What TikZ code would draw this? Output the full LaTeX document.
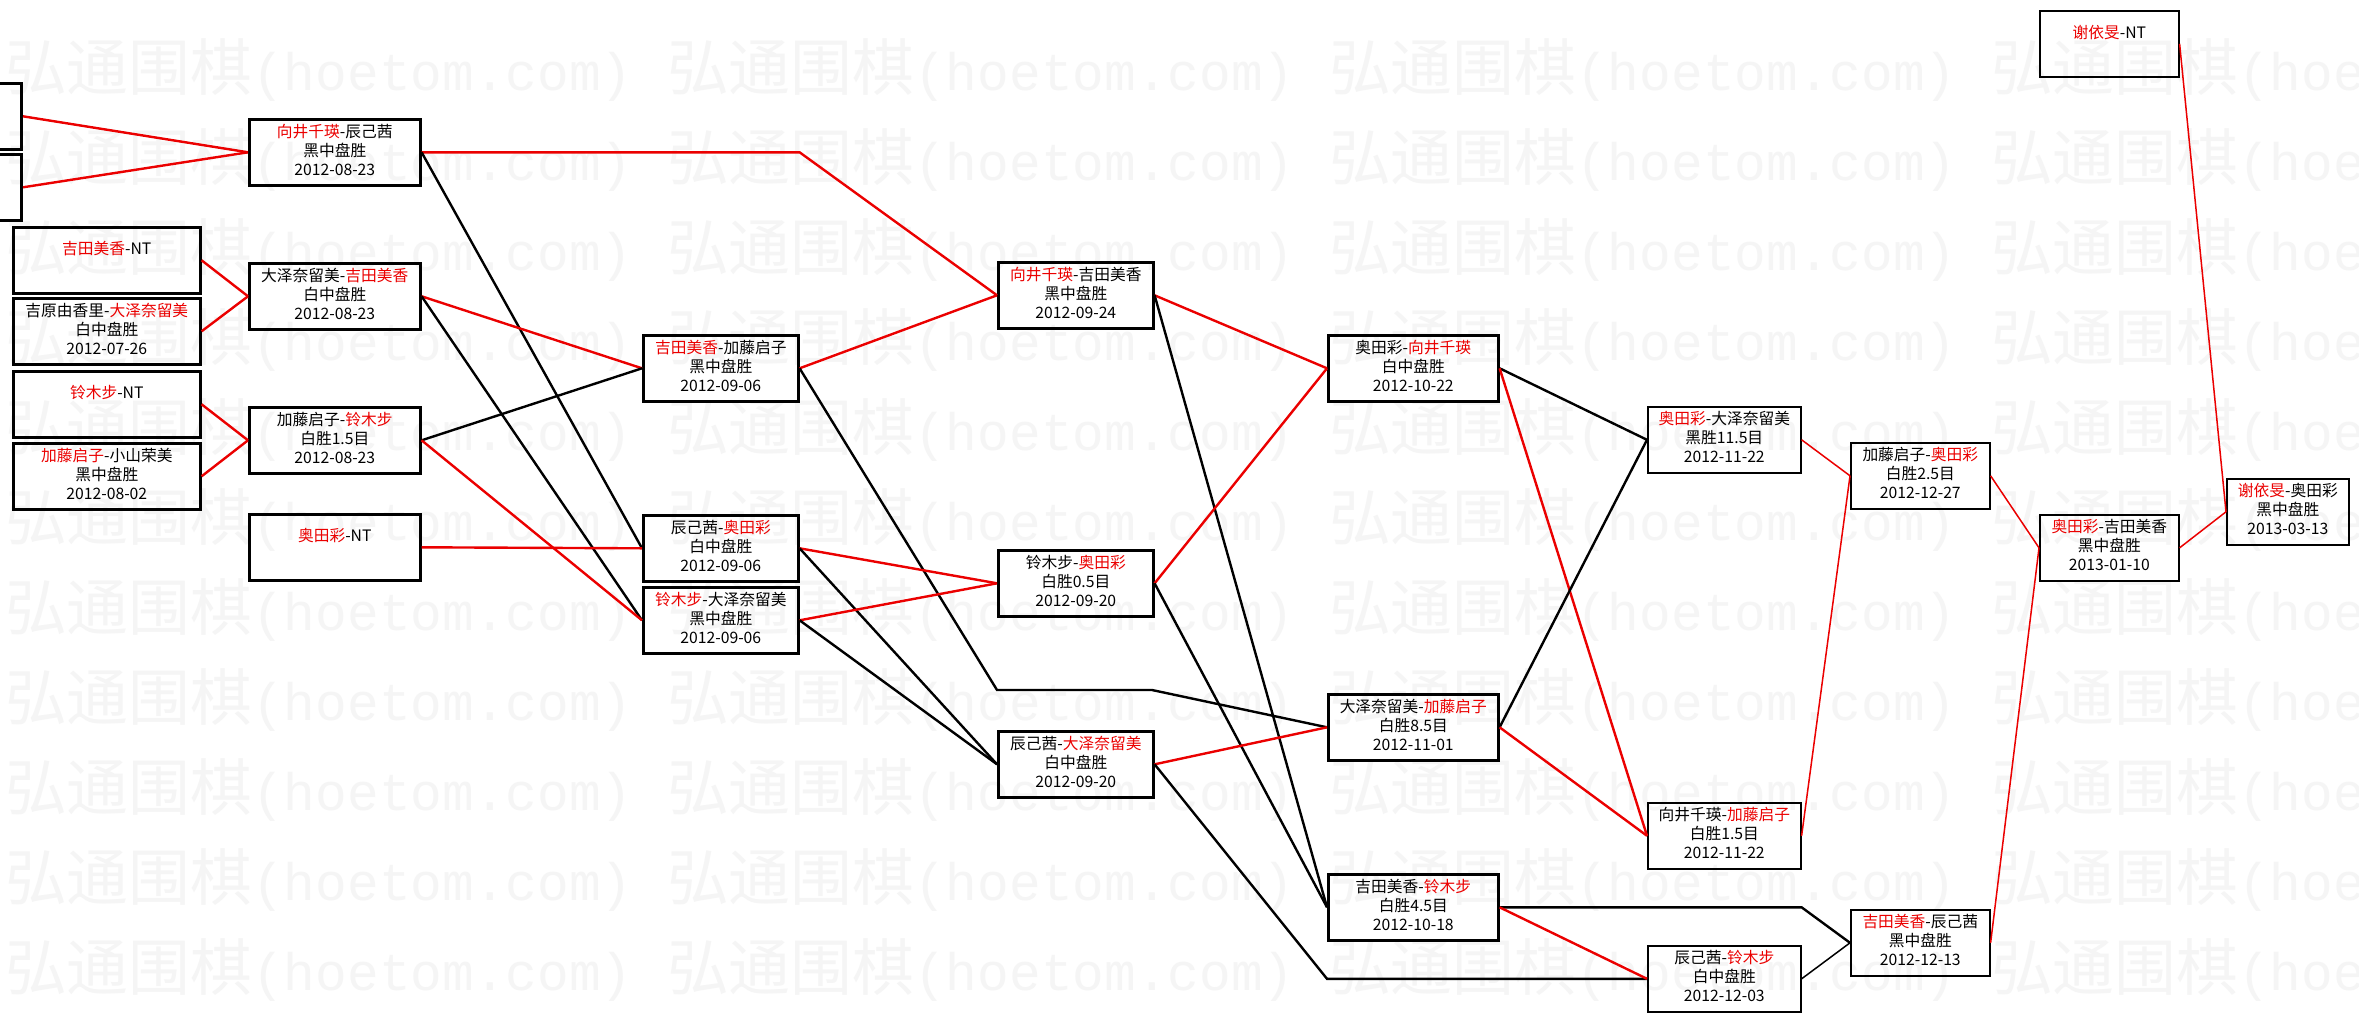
\documentclass[tikz,border=0pt]{standalone}
\usepackage{fontspec}
\setmainfont{Noto Sans CJK SC}
\newfontfamily\wmlat{Liberation Mono}
\definecolor{myred}{RGB}{235,0,0}
\newcommand\R[1]{\textcolor{myred}{#1}}
\newcommand\tri[3]{\begin{tabular}{@{}c@{}}#1\\#2\\#3\end{tabular}}
\begin{document}
\begin{tikzpicture}[x=1bp,y=-1bp,
  gbox/.style={draw=black, line width=2.6bp, rectangle, inner sep=0pt, minimum height=66bp, anchor=north west, font=\fontsize{15.8}{19}\selectfont},
  tbox/.style={gbox, line width=1.6bp},
  wline/.style={draw=myred, line width=2.4bp},
  lline/.style={draw=black, line width=2.4bp},
  twline/.style={wline, line width=1.5bp},
  tlline/.style={lline, line width=1.5bp},
  wmark/.style={anchor=base west, inner sep=0pt, text=black!4, font=\fontsize{62}{62}\selectfont}
]
\useasboundingbox (0,0) rectangle (2359,1021);
\clip (0,0) rectangle (2359,1021);
\fill[white] (0,0) rectangle (2359,1021);
% watermark
\foreach \k in {0,...,10} {
  \foreach \j in {0,...,3} {
    \node[wmark] (wm-\k-\j) at ({5+662*\j},{90+90*\k}) {弘通围棋{\wmlat\fontsize{53}{53}\selectfont(hoetom.com)}};
  }
}
% column 0 (cut off)
\node[gbox, minimum width=188bp, anchor=north east] (a1) at (23,82) {};
\node[gbox, minimum width=188bp, anchor=north east] (a2) at (23,153) {};
% column 1
\node[gbox, minimum width=187bp] (c1a) at (12,226) {\tri{\R{吉田美香}-NT}{}{}};
\node[gbox, minimum width=187bp] (c1b) at (12,297) {\tri{吉原由香里-\R{大泽奈留美}}{白中盘胜}{2012-07-26}};
\node[gbox, minimum width=187bp] (c1c) at (12,370) {\tri{\R{铃木步}-NT}{}{}};
\node[gbox, minimum width=187bp] (c1d) at (12,442) {\tri{\R{加藤启子}-小山荣美}{黑中盘胜}{2012-08-02}};
% column 2
\node[gbox, minimum width=171bp] (c2a) at (248,118) {\tri{\R{向井千瑛}-辰己茜}{黑中盘胜}{2012-08-23}};
\node[gbox, minimum width=171bp] (c2b) at (248,262) {\tri{大泽奈留美-\R{吉田美香}}{白中盘胜}{2012-08-23}};
\node[gbox, minimum width=171bp] (c2c) at (248,406) {\tri{加藤启子-\R{铃木步}}{白胜1.5目}{2012-08-23}};
\node[gbox, minimum width=171bp] (c2d) at (248,513) {\tri{\R{奥田彩}-NT}{}{}};
% column 3
\node[gbox, minimum width=155bp] (c3a) at (642,334) {\tri{\R{吉田美香}-加藤启子}{黑中盘胜}{2012-09-06}};
\node[gbox, minimum width=155bp] (c3b) at (642,514) {\tri{辰己茜-\R{奥田彩}}{白中盘胜}{2012-09-06}};
\node[gbox, minimum width=155bp] (c3c) at (642,586) {\tri{\R{铃木步}-大泽奈留美}{黑中盘胜}{2012-09-06}};
% column 4
\node[gbox, minimum width=155bp] (c4a) at (997,261) {\tri{\R{向井千瑛}-吉田美香}{黑中盘胜}{2012-09-24}};
\node[gbox, minimum width=155bp] (c4b) at (997,549) {\tri{铃木步-\R{奥田彩}}{白胜0.5目}{2012-09-20}};
\node[gbox, minimum width=155bp] (c4c) at (997,730) {\tri{辰己茜-\R{大泽奈留美}}{白中盘胜}{2012-09-20}};
% column 5
\node[gbox, minimum width=170bp] (c5a) at (1327,334) {\tri{奥田彩-\R{向井千瑛}}{白中盘胜}{2012-10-22}};
\node[gbox, minimum width=170bp] (c5b) at (1327,693) {\tri{大泽奈留美-\R{加藤启子}}{白胜8.5目}{2012-11-01}};
\node[gbox, minimum width=170bp] (c5c) at (1327,873) {\tri{吉田美香-\R{铃木步}}{白胜4.5目}{2012-10-18}};
% column 6
\node[tbox, minimum width=153bp] (c6a) at (1647,406) {\tri{\R{奥田彩}-大泽奈留美}{黑胜11.5目}{2012-11-22}};
\node[tbox, minimum width=153bp] (c6b) at (1647,802) {\tri{向井千瑛-\R{加藤启子}}{白胜1.5目}{2012-11-22}};
\node[tbox, minimum width=153bp] (c6c) at (1647,945) {\tri{辰己茜-\R{铃木步}}{白中盘胜}{2012-12-03}};
% column 7
\node[tbox, minimum width=139bp] (c7a) at (1850,442) {\tri{加藤启子-\R{奥田彩}}{白胜2.5目}{2012-12-27}};
\node[tbox, minimum width=139bp] (c7b) at (1850,909) {\tri{\R{吉田美香}-辰己茜}{黑中盘胜}{2012-12-13}};
% column 8
\node[tbox, minimum width=139bp] (c8n) at (2039,10) {\tri{\R{谢依旻}-NT}{}{}};
\node[tbox, minimum width=139bp] (c8a) at (2039,514) {\tri{\R{奥田彩}-吉田美香}{黑中盘胜}{2013-01-10}};
% column 9
\node[tbox, minimum width=122bp] (c9a) at (2226,478) {\tri{\R{谢依旻}-奥田彩}{黑中盘胜}{2013-03-13}};
% bend points
\coordinate (k1) at (997,690);
\coordinate (k2) at (1152,690);
% round 1
\draw[wline] (a1.east) -- (c2a.west);
\draw[wline] (a2.east) -- (c2a.west);
\draw[wline] (c1a.east) -- (c2b.west);
\draw[wline] (c1b.east) -- (c2b.west);
\draw[wline] (c1c.east) -- (c2c.west);
\draw[wline] (c1d.east) -- (c2c.west);
% round 2
\draw[wline] (c2a.east) -- (c2a.east -| c3a.east) -- (c4a.west);
\draw[lline] (c2a.east) -- (c3b.west);
\draw[wline] (c2b.east) -- (c3a.west);
\draw[lline] (c2b.east) -- (c3c.west);
\draw[lline] (c2c.east) -- (c3a.west);
\draw[wline] (c2c.east) -- (c3c.west);
\draw[wline] (c2d.east) -- (c3b.west);
% round 3
\draw[wline] (c3a.east) -- (c4a.west);
\draw[lline] (c3a.east) -- (k1) -- (k2) -- (c5b.west);
\draw[wline] (c3b.east) -- (c4b.west);
\draw[lline] (c3b.east) -- (c4c.west);
\draw[wline] (c3c.east) -- (c4b.west);
\draw[lline] (c3c.east) -- (c4c.west);
% round 4
\draw[wline] (c4a.east) -- (c5a.west);
\draw[lline] (c4a.east) -- (c5c.west);
\draw[wline] (c4b.east) -- (c5a.west);
\draw[lline] (c4b.east) -- (c5c.west);
\draw[wline] (c4c.east) -- (c5b.west);
\draw[lline] (c4c.east) -- (c5c.west |- c6c.west) -- (c6c.west);
% round 5
\draw[lline] (c5a.east) -- (c6a.west);
\draw[wline] (c5a.east) -- (c6b.west);
\draw[lline] (c5b.east) -- (c6a.west);
\draw[wline] (c5b.east) -- (c6b.west);
\draw[lline] (c5c.east) -- (c5c.east -| c6c.east) -- (c7b.west);
\draw[wline] (c5c.east) -- (c6c.west);
% round 6
\draw[twline] (c6a.east) -- (c7a.west);
\draw[twline] (c6b.east) -- (c7a.west);
\draw[tlline] (c6c.east) -- (c7b.west);
% round 7
\draw[twline] (c7a.east) -- (c8a.west);
\draw[twline] (c7b.east) -- (c8a.west);
% round 8
\draw[twline] (c8a.east) -- (c9a.west);
\draw[twline] (c8n.east) -- (c9a.west);
\end{tikzpicture}
\end{document}
